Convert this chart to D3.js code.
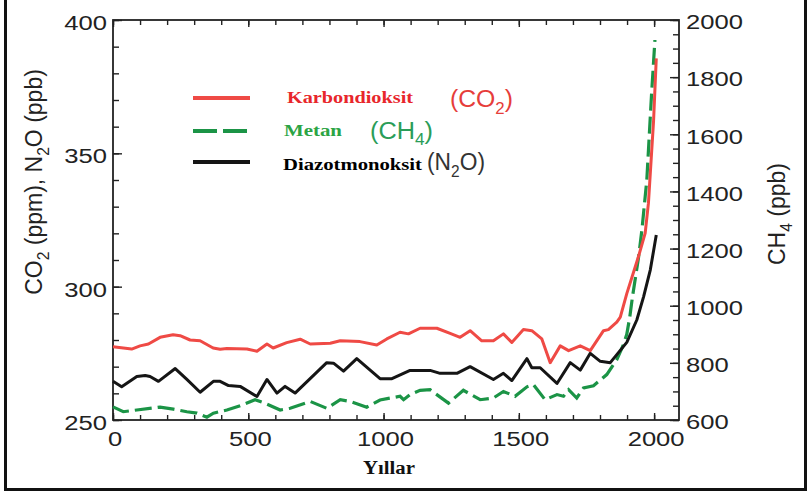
<!DOCTYPE html>
<html>
<head>
<meta charset="utf-8">
<script src="https://cdn.jsdelivr.net/npm/d3@7"></script>
<style>
  body { margin: 0; background: #fff; }
  svg { display: block; }
</style>
</head>
<body>
<div id="chart"></div>
<script>
// values, [year, value]
let co2Data = [[0,277.5],[69,276.6],[100,277.8],[131,278.5],[174,281],[222,282],[248,281.6],[285,280],
  [322,279.7],[370,277],[396,276.5],[421,276.8],[495,276.6],[532,275.8],[569,278.5],[592,277],[642,279],
  [692,280.3],[729,278.5],[803,278.8],[840,279.7],[913,279.4],[975,278.1],[1012,280.4],[1061,282.9],
  [1092,282.3],[1135,284.4],[1197,284.4],[1246,282.5],[1283,281],[1320,283.5],[1363,279.7],[1406,279.7],
  [1443,282.3],[1474,279.1],[1517,283.9],[1548,283.5],[1585,280.4],[1616,271.5],[1653,277.8],[1684,276],
  [1727,277.8],[1764,276],[1813,283.5],[1831,283.9],[1862,286.7],[1875,288.6],[1899,297.4],[1942,311.2],
  [1967,320.1],[1979,331.3],[1998,362.2],[2008,385.6]];

let n2oData = [[0,264.5],[32,262.5],[88,266.3],[119,266.7],[137,266.3],[168,264.5],[230,269.3],[273,265.2],
  [322,260.4],[371,264.5],[396,264.5],[427,262.9],[470,262.6],[532,258.8],[569,265.2],[606,260.1],[636,262.6],
  [673,260.1],[790,271.5],[815,271.3],[852,268.3],[901,273],[987,265.5],[1031,265.5],[1098,268.6],[1172,268.6],
  [1209,267.5],[1271,267.5],[1320,270],[1406,265.2],[1443,267.5],[1474,264.8],[1530,273],[1548,269.6],
  [1579,269.6],[1641,263.7],[1690,271.5],[1727,268.7],[1764,275],[1801,272],[1838,271.5],[1899,279.1],
  [1936,287.5],[1961,296.2],[1986,306.3],[2008,319.4]];

let ch4Data = [[0,646],[38,629],[88,635],[174,645],[223,638],[273,629],[310,624],[347,610],[371,624],
  [421,635],[470,650],[525,671],[556,661],[618,635],[655,641],[729,665],[790,641],[840,671],[876,665],
  [938,645],[987,670],[1061,683],[1074,671],[1098,689],[1135,704],[1172,706],[1240,659],[1295,704],
  [1357,671],[1406,677],[1443,700],[1486,683],[1530,716],[1554,724],[1597,671],[1641,689],[1665,683],
  [1684,706],[1714,677],[1739,712],[1776,720],[1825,759],[1862,811],[1885,860],[1899,900],[1910,960],
  [1920,1031],[1942,1166],[1955,1266],[1973,1440],[1990,1731],[2003,1930]];

let xTicks = [0, 500, 1000, 1500, 2000];
let leftTicks = [250, 300, 350, 400];
let rightTicks = [600, 800, 1000, 1200, 1400, 1600, 1800, 2000];

let svgWidth = 811;
let svgHeight = 493;

let margin = {
  top: 20,
  right: 132,
  bottom: 73,
  left: 113
};

let width = svgWidth - margin.left - margin.right;
let height = svgHeight - margin.top - margin.bottom;

let svg = d3.select("#chart")
  .append("svg")
  .attr("width", svgWidth)
  .attr("height", svgHeight)
  .style("background", "#fff");

let chartGroup = svg.append("g")
  .attr("transform", `translate(${margin.left}, ${margin.top})`);

let xScale = d3.scaleLinear().domain([0, 2092]).range([0, width]);
let yLeft = d3.scaleLinear().domain([250, 400]).range([height, 0]);
let yRight = d3.scaleLinear().domain([600, 2000]).range([height, 0]);

let tickFont = "'Liberation Sans', Arial, sans-serif";
let stretch = 1.22;
let plain = d3.format("d");

// outer picture border (left, bottom, right)
svg.append("path")
  .attr("d", "M5.5,0 V489.5 H805.5 V0")
  .attr("fill", "none")
  .attr("stroke", "#111")
  .attr("stroke-width", 3);

// helper: append an axis, drop its domain path
function drawAxis(axis, tx, ty) {
  let g = chartGroup.append("g")
    .attr("transform", `translate(${tx}, ${ty})`)
    .call(axis);
  g.select(".domain").remove();
  g.selectAll("line").attr("stroke", "#222").attr("stroke-width", 1.4);
  return g;
}

// minor ticks
drawAxis(d3.axisBottom(xScale).tickValues(d3.range(0, 2001, 100)).tickSize(-5).tickFormat(""), 0, height);
drawAxis(d3.axisTop(xScale).tickValues(d3.range(0, 2001, 100)).tickSize(-5).tickFormat(""), 0, 0);
drawAxis(d3.axisLeft(yLeft).tickValues(d3.range(250, 401, 10)).tickSize(-6).tickFormat(""), 0, 0);
drawAxis(d3.axisRight(yRight).tickValues(d3.range(600, 2001, 50)).tickSize(-6).tickFormat(""), width, 0);

// major ticks with labels
let xAxis = drawAxis(d3.axisBottom(xScale).tickValues(xTicks).tickSize(-7).tickPadding(0).tickFormat(plain), 0, height);
drawAxis(d3.axisTop(xScale).tickValues(xTicks).tickSize(-7).tickFormat(""), 0, 0);
let leftAxis = drawAxis(d3.axisLeft(yLeft).tickValues(leftTicks).tickSize(-9).tickPadding(6).tickFormat(plain), 0, 0);
let rightAxis = drawAxis(d3.axisRight(yRight).tickValues(rightTicks).tickSize(-9).tickPadding(7).tickFormat(plain), width, 0);

xAxis.selectAll("text")
  .attr("y", 26)
  .attr("dy", null)
  .attr("x", 1.5 / stretch)
  .attr("transform", `scale(${stretch},1)`);

leftAxis.selectAll("text")
  .attr("x", -6 / stretch)
  .attr("dy", "0.45em")
  .attr("transform", `scale(${stretch},1)`);

rightAxis.selectAll("text")
  .attr("x", 7 / stretch)
  .attr("dy", "0.42em")
  .attr("transform", `scale(${stretch},1)`);

chartGroup.selectAll(".tick text")
  .attr("fill", "#222")
  .style("font-family", tickFont)
  .style("font-size", "21px");

// plot frame
chartGroup.append("rect")
  .attr("width", width)
  .attr("height", height)
  .attr("fill", "none")
  .attr("stroke", "#222")
  .attr("stroke-width", 1.8);

// series lines
let co2Line = d3.line().x(d => xScale(d[0])).y(d => yLeft(d[1]));
let ch4Line = d3.line().x(d => xScale(d[0])).y(d => yRight(d[1]));

chartGroup.append("path")
  .datum(ch4Data)
  .attr("d", ch4Line)
  .attr("fill", "none")
  .attr("stroke", "#1b9446")
  .attr("stroke-width", 3.2)
  .attr("stroke-dasharray", "17,6");

chartGroup.append("path")
  .datum(n2oData)
  .attr("d", co2Line)
  .attr("fill", "none")
  .attr("stroke", "#151515")
  .attr("stroke-width", 3)
  .attr("stroke-linejoin", "round");

chartGroup.append("path")
  .datum(co2Data)
  .attr("d", co2Line)
  .attr("fill", "none")
  .attr("stroke", "#ef4a45")
  .attr("stroke-width", 3)
  .attr("stroke-linejoin", "round");

// text with subscripts: parts = [[string, isSub], ...]
function subText(sel, parts, fs) {
  let shift = fs * 0.3;
  let down = false;
  parts.forEach(p => {
    let t = sel.append("tspan").text(p[0]);
    if (p[1]) {
      t.attr("font-size", fs * 0.68).attr("dy", shift);
      down = true;
    } else if (down) {
      t.attr("dy", -shift);
      down = false;
    }
  });
  return sel;
}

let sansFont = "'Liberation Sans', Arial, sans-serif";
let serifFont = "'Liberation Serif', 'Times New Roman', serif";

// axis titles
let leftTitle = svg.append("text")
  .attr("transform", "translate(42, 182) rotate(-90)")
  .attr("text-anchor", "middle")
  .attr("fill", "#222")
  .style("font-family", sansFont)
  .style("font-size", "23px");
subText(leftTitle, [["CO", 0], ["2", 1], [" (ppm), N", 0], ["2", 1], ["O (ppb)", 0]], 23);

let rightTitle = svg.append("text")
  .attr("transform", "translate(785, 214) rotate(-90)")
  .attr("text-anchor", "middle")
  .attr("fill", "#222")
  .style("font-family", sansFont)
  .style("font-size", "23px");
subText(rightTitle, [["CH", 0], ["4", 1], [" (ppb)", 0]], 23);

svg.append("text")
  .attr("x", 389)
  .attr("y", 474)
  .attr("text-anchor", "middle")
  .attr("textLength", 52)
  .attr("lengthAdjust", "spacingAndGlyphs")
  .style("font-family", serifFont)
  .style("font-weight", "bold")
  .style("font-size", "18px")
  .attr("fill", "#111")
  .text("Yıllar");

// legend
let legendItems = [
  {name: "Karbondioksit", formula: [["(CO", 0], ["2", 1], [")", 0]], color: "#ef4a45", nameColor: "#e8262b",
    formulaColor: "#e63d3a", y: 98, nameX: 287, nameLen: 126, nameBase: 102.5, fx: 450, fLen: 63, fBase: 107, dash: null},
  {name: "Metan", formula: [["(CH", 0], ["4", 1], [")", 0]], color: "#1b9446", nameColor: "#2ca444",
    formulaColor: "#2a9d58", y: 131, nameX: 284, nameLen: 58, nameBase: 136, fx: 370, fLen: 63, fBase: 138.5, dash: "24,6"},
  {name: "Diazotmonoksit", formula: [["(N", 0], ["2", 1], ["O)", 0]], color: "#151515", nameColor: "#000",
    formulaColor: "#333", y: 162, nameX: 283, nameLen: 139, nameBase: 169.5, fx: 427, fLen: 58, fBase: 170, dash: null}
];

let legend = svg.append("g");

legendItems.forEach(d => {
  legend.append("line")
    .attr("x1", 193).attr("x2", 250)
    .attr("y1", d.y).attr("y2", d.y)
    .attr("stroke", d.color)
    .attr("stroke-width", 4)
    .attr("stroke-dasharray", d.dash);

  legend.append("text")
    .attr("x", d.nameX)
    .attr("y", d.nameBase)
    .attr("textLength", d.nameLen)
    .attr("lengthAdjust", "spacingAndGlyphs")
    .attr("fill", d.nameColor)
    .style("font-family", serifFont)
    .style("font-weight", "bold")
    .style("font-size", "17px")
    .text(d.name);

  let f = legend.append("text")
    .attr("x", d.fx)
    .attr("y", d.fBase)
    .attr("textLength", d.fLen)
    .attr("lengthAdjust", "spacingAndGlyphs")
    .attr("fill", d.formulaColor)
    .style("font-family", sansFont)
    .style("font-size", "23px");
  subText(f, d.formula, 23);
});
</script>
</body>
</html>
